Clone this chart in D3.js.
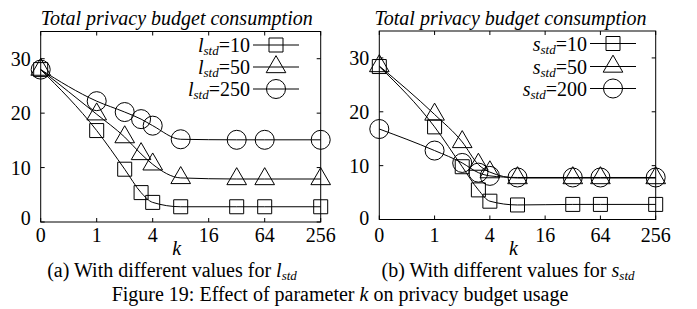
<!DOCTYPE html>
<meta charset="utf-8">
<script src="https://cdn.jsdelivr.net/npm/d3@7"></script>
<style>
  body { margin: 0; background: #fff; }
</style>
<div id="chart"></div>
<script>

// k values on the x axis (0 is placed one step left of 1, the rest in powers of 4)
var kValues = [0, 1, 2, 3, 4, 8, 32, 64, 256];
var kTicks = [0, 1, 4, 16, 64, 256];
var yTicks = [0, 10, 20, 30];

// (a) different l_std
var lStd10  = [28.0, 16.8, 9.7, 5.4, 3.6, 2.8, 2.8, 2.8, 2.8];
var lStd50  = [28.0, 19.8, 15.6, 12.5, 10.6, 8.1, 7.9, 7.9, 7.9];
var lStd250 = [28.0, 22.2, 20.2, 18.9, 17.7, 15.2, 15.1, 15.1, 15.1];

// (b) different s_std
var sStd10  = [28.4, 17.2, 9.8, 5.5, 3.4, 2.7, 2.8, 2.8, 2.8];
var sStd50  = [28.5, 19.5, 14.4, 10.2, 8.8, 7.7, 7.7, 7.7, 7.7];
var sStd200 = [16.8, 12.8, 10.5, 8.7, 8.1, 7.8, 7.8, 7.8, 7.8];

var legendA = ["10", "50", "250"];
var legendB = ["10", "50", "200"];

var FONT = "'Liberation Serif'";

var W = 697, H = 309;
var svg = d3.select("#chart").append("svg")
    .attr("width", W).attr("height", H);

// position of a k value in "steps"
function kPos(k) { return k === 0 ? 0 : 1 + Math.log(k) / Math.log(4); }

var shapes = [d3.symbolSquare, d3.symbolTriangle, d3.symbolCircle];
var sizes = [196, 167, 284];

function txt(sel) {
  return sel.append("text").style("font-family", FONT).attr("fill", "#000");
}

function drawPanel(opt) {
  var x = d3.scaleLinear().domain([0, 5]).range([opt.left, opt.right]);
  var y = d3.scaleLinear().domain([0, 35]).range([opt.bottom, opt.top]);
  var g = svg.append("g");

  // frame
  g.append("rect")
    .attr("x", opt.left).attr("y", opt.top)
    .attr("width", opt.right - opt.left).attr("height", opt.bottom - opt.top)
    .attr("fill", "none").attr("stroke", "#000").attr("stroke-width", 1);

  // x ticks (bottom + mirrored top)
  kTicks.forEach(function(k) {
    var px = x(kPos(k));
    g.append("line").attr("x1", px).attr("x2", px)
      .attr("y1", opt.bottom).attr("y2", opt.bottom - 4).attr("stroke", "#000");
    g.append("line").attr("x1", px).attr("x2", px)
      .attr("y1", opt.top).attr("y2", opt.top + 4).attr("stroke", "#000");
    txt(g).attr("x", px).attr("y", 242)
      .attr("text-anchor", "middle").style("font-size", "20px").text(k);
  });

  // y ticks (left + mirrored right)
  yTicks.forEach(function(v) {
    var py = y(v);
    g.append("line").attr("x1", opt.left).attr("x2", opt.left + 4)
      .attr("y1", py).attr("y2", py).attr("stroke", "#000");
    g.append("line").attr("x1", opt.right).attr("x2", opt.right - 4)
      .attr("y1", py).attr("y2", py).attr("stroke", "#000");
    txt(g).attr("x", opt.left - 10).attr("y", py + (v === 0 ? opt.zeroDy : 7))
      .attr("text-anchor", "end").style("font-size", "20px").text(v);
  });

  // title
  txt(g).attr("x", (opt.left + opt.right) / 2 + opt.titleDx).attr("y", 25)
    .attr("text-anchor", "middle").style("font-size", "20px").style("font-style", "italic")
    .text("Total privacy budget consumption");

  // axis label k
  txt(g).attr("x", (opt.left + opt.right) / 2 - 4).attr("y", 255)
    .attr("text-anchor", "middle").style("font-size", "20px").style("font-style", "italic")
    .text("k");

  var line = d3.line()
    .x(function(d, i) { return x(kPos(kValues[i])); })
    .y(function(d) { return y(d); })
    .curve(d3.curveMonotoneX);

  opt.series.forEach(function(s, si) {
    g.append("path").datum(s)
      .attr("d", line)
      .attr("fill", "none").attr("stroke", "#000").attr("stroke-width", 1);

    g.selectAll(".m" + si).data(s).enter().append("path")
      .attr("transform", function(d, i) {
        return "translate(" + x(kPos(kValues[i])) + "," + y(d) + ")";
      })
      .attr("d", d3.symbol().type(shapes[si]).size(sizes[si]))
      .attr("fill", "none").attr("stroke", "#000").attr("stroke-width", 1);

    // legend row
    var ly = opt.legendY[si];
    g.append("line").attr("x1", opt.legendX).attr("x2", opt.legendX + 46)
      .attr("y1", ly).attr("y2", ly).attr("stroke", "#000");
    g.append("path")
      .attr("transform", "translate(" + (opt.legendX + 23) + "," + ly + ")")
      .attr("d", d3.symbol().type(shapes[si]).size(sizes[si]))
      .attr("fill", "none").attr("stroke", "#000");
    var t = txt(g).attr("x", opt.legendX - 3).attr("y", ly + 7)
      .attr("text-anchor", "end").style("font-size", "20px");
    t.append("tspan").style("font-style", "italic").text(opt.sym);
    t.append("tspan").style("font-style", "italic").style("font-size", "13px")
      .attr("dy", 3).text("std");
    t.append("tspan").attr("dy", -3).text("=" + opt.labels[si]);
  });

  // caption
  var c = txt(g).attr("x", opt.captionX).attr("y", 277)
    .attr("text-anchor", "middle").style("font-size", "20px");
  c.append("tspan").text(opt.caption + " ");
  c.append("tspan").style("font-style", "italic").text(opt.sym);
  c.append("tspan").style("font-style", "italic").style("font-size", "13px")
    .attr("dy", 3).text("std");
}

drawPanel({
  left: 40.7, right: 320.7, top: 31.5, bottom: 222, titleDx: -4, zeroDy: 3,
  series: [lStd10, lStd50, lStd250], labels: legendA, sym: "l",
  legendX: 253, legendY: [45, 67, 89],
  caption: "(a) With different values for", captionX: 172
});

drawPanel({
  left: 379.3, right: 655.7, top: 31, bottom: 219.5, titleDx: -7, zeroDy: 5,
  series: [sStd10, sStd50, sStd200], labels: legendB, sym: "s",
  legendX: 590, legendY: [43.5, 66.5, 88.5],
  caption: "(b) With different values for", captionX: 508
});

// figure caption
var fc = txt(svg).attr("x", 340).attr("y", 301)
  .attr("text-anchor", "middle").style("font-size", "20px");
fc.append("tspan").text("Figure 19: Effect of parameter ");
fc.append("tspan").style("font-style", "italic").text("k");
fc.append("tspan").text(" on privacy budget usage");

</script>
